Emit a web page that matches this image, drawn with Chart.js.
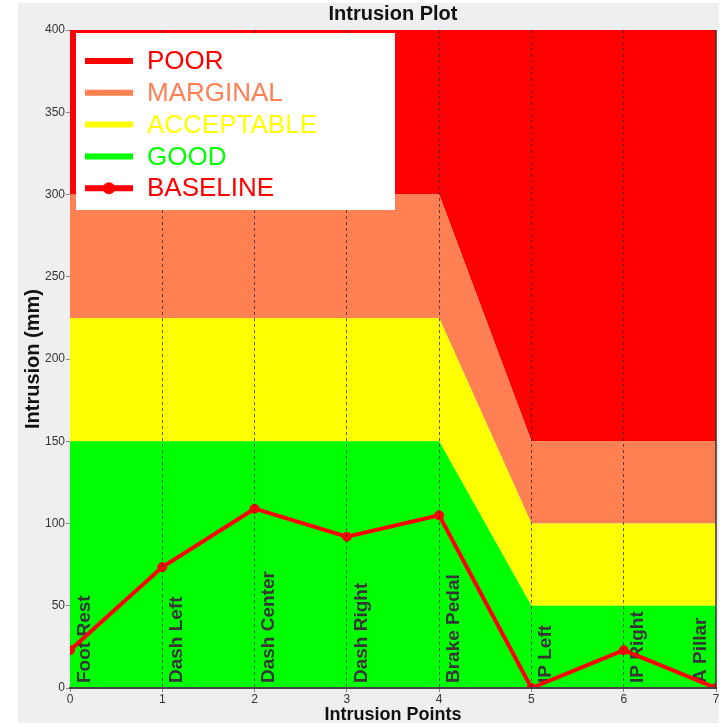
<!DOCTYPE html>
<html>
<head>
<meta charset="utf-8">
<script src="https://cdn.jsdelivr.net/npm/chart.js@4.4.1/dist/chart.umd.min.js"></script>
<style>
  html, body { margin: 0; padding: 0; background: #ffffff; }
  #wrap { position: relative; width: 727px; height: 727px; }
</style>
</head>
<body>
<div id="wrap"><canvas id="c" width="727" height="727"></canvas></div>
<script>
// ---- data ----
const categories = ['Foot Rest', 'Dash Left', 'Dash Center', 'Dash Right', 'Brake Pedal', 'IP Left', 'IP Right', 'A Pillar'];
const xPositions = [0, 1, 2, 3, 4, 5, 6, 7];
const goodLimit = [150, 150, 150, 150, 150, 50, 50, 50];
const acceptableLimit = [225, 225, 225, 225, 225, 100, 100, 100];
const marginalLimit = [300, 300, 300, 300, 300, 150, 150, 150];
const poorLimit = [400, 400, 400, 400, 400, 400, 400, 400];
const baseline = [23, 73.5, 109, 92, 105, 0, 23, 0];
const yTicks = [0, 50, 100, 150, 200, 250, 300, 350, 400];

const toXY = arr => arr.map((v, i) => ({ x: xPositions[i], y: v }));

const COL_POOR = '#ff0000';
const COL_MARG = '#ff8052';
const COL_ACC = '#ffff00';
const COL_GOOD = '#00ff00';
const FONT = "'Liberation Sans', Arial, sans-serif";
const NARROW = "'Liberation Sans Narrow', 'Liberation Sans', Arial, sans-serif";

const bandDefaults = { borderWidth: 0, borderColor: 'rgba(0,0,0,0)', pointRadius: 0, pointHoverRadius: 0, tension: 0 };

const panelPlugin = {
  id: 'panel',
  beforeDraw(chart) {
    const ctx = chart.ctx;
    ctx.save();
    ctx.fillStyle = '#efefef';
    ctx.fillRect(18, 3, 701, 720);
    ctx.restore();
  }
};

const labelsPlugin = {
  id: 'catLabels',
  afterDatasetDraw(chart, args) {
    if (args.index !== 1) return;
    const ctx = chart.ctx;
    const xs = chart.scales.x, ys = chart.scales.y;
    const area = chart.chartArea;
    ctx.save();
    ctx.font = 'bold 19px ' + FONT;
    ctx.fillStyle = '#363636';
    ctx.textAlign = 'left';
    ctx.textBaseline = 'top';
    const y0 = ys.getPixelForValue(0) - 5;
    categories.forEach((c, i) => {
      let px = xs.getPixelForValue(xPositions[i]) + 5;
      if (px + 24 > area.right) px = area.right - 25;
      ctx.save();
      ctx.translate(px, y0);
      ctx.rotate(-Math.PI / 2);
      ctx.fillText(c, 0, 0);
      ctx.restore();
    });
    ctx.restore();
  }
};

const framePlugin = {
  id: 'frame',
  afterDraw(chart) {
    const ctx = chart.ctx;
    const a = chart.chartArea;
    ctx.save();
    ctx.strokeStyle = '#333';
    ctx.lineWidth = 1.5;
    ctx.beginPath();
    ctx.moveTo(a.right, a.top);
    ctx.lineTo(a.right, a.bottom);
    ctx.stroke();

    // legend box
    const bx = a.left + 6, by = a.top + 3, bw = 319, bh = 177;
    ctx.fillStyle = '#ffffff';
    ctx.fillRect(bx, by, bw, bh);
    const order = [4, 3, 2, 1, 0];
    ctx.font = '26px ' + FONT;
    ctx.textBaseline = 'middle';
    ctx.textAlign = 'left';
    order.forEach((di, k) => {
      const ds = chart.data.datasets[di];
      const cy = by + 28 + k * 31.8;
      const col = ds.legendColor;
      ctx.strokeStyle = col;
      ctx.lineWidth = 6;
      ctx.beginPath();
      ctx.moveTo(bx + 9, cy);
      ctx.lineTo(bx + 57, cy);
      ctx.stroke();
      if (di === 0) {
        ctx.fillStyle = col;
        ctx.beginPath();
        ctx.arc(bx + 33, cy, 6, 0, Math.PI * 2);
        ctx.fill();
      }
      ctx.fillStyle = col;
      ctx.fillText(ds.label, bx + 71, cy + 1);
    });
    ctx.restore();
  }
};

new Chart(document.getElementById('c'), {
  type: 'line',
  data: {
    datasets: [
      { label: 'BASELINE', legendColor: COL_POOR, data: toXY(baseline), borderColor: COL_POOR, backgroundColor: COL_POOR,
        borderWidth: 4, pointRadius: 4.5, pointBorderWidth: 1, pointBackgroundColor: COL_POOR, pointBorderColor: COL_POOR,
        tension: 0, fill: false },
      Object.assign({ label: 'GOOD', legendColor: COL_GOOD, data: toXY(goodLimit), backgroundColor: COL_GOOD, fill: 'origin' }, bandDefaults),
      Object.assign({ label: 'ACCEPTABLE', legendColor: COL_ACC, data: toXY(acceptableLimit), backgroundColor: COL_ACC, fill: '-1' }, bandDefaults),
      Object.assign({ label: 'MARGINAL', legendColor: COL_MARG, data: toXY(marginalLimit), backgroundColor: COL_MARG, fill: '-1' }, bandDefaults),
      Object.assign({ label: 'POOR', legendColor: COL_POOR, data: toXY(poorLimit), backgroundColor: COL_POOR, fill: '-1' }, bandDefaults)
    ]
  },
  options: {
    responsive: false,
    animation: false,
    events: [],
    layout: { padding: { left: 0, top: 0, right: 11, bottom: 0 } },
    plugins: {
      legend: { display: false },
      title: { display: false },
      tooltip: { enabled: false },
      filler: { propagate: false }
    },
    scales: {
      x: {
        type: 'linear', position: 'bottom', min: 0, max: 7,
        afterFit(s) { s.height = 39; },
        ticks: { stepSize: 1, color: '#333', padding: 0, font: { family: NARROW, size: 12 }, maxRotation: 0 },
        grid: {
          z: 1,
          color: ctx => (ctx.tick && (ctx.tick.value === 0 || ctx.tick.value === 7)) ? 'rgba(0,0,0,0)' : 'rgba(40,40,40,0.75)',
          lineWidth: 1, tickLength: 4, tickColor: '#888', drawOnChartArea: true, tickBorderDash: []
        },
        border: { display: true, z: 1, color: '#444', width: 2, dash: [3, 3] },
        title: { display: true, text: 'Intrusion Points', color: '#111', font: { family: NARROW, size: 18, weight: 'bold' }, padding: { top: 0, bottom: 1 } }
      },
      xTop: {
        type: 'linear', position: 'top', min: 0, max: 7,
        afterFit(s) { s.height = 30; },
        ticks: { display: false },
        grid: { display: false },
        border: { display: false },
        title: { display: true, text: 'Intrusion Plot', color: '#111', font: { family: FONT, size: 20, weight: 'bold' }, padding: { top: 2, bottom: 0 } }
      },
      y: {
        type: 'linear', min: 0, max: 400,
        afterFit(s) { s.width = 70; },
        afterBuildTicks(s) { s.ticks = yTicks.map(v => ({ value: v })); },
        ticks: { color: '#333', padding: 1, font: { family: FONT, size: 12 } },
        grid: { drawOnChartArea: false, tickLength: 4, tickColor: '#888', color: '#888' },
        border: { display: false },
        title: { display: true, text: 'Intrusion (mm)', color: '#111', font: { family: FONT, size: 20, weight: 'bold' }, padding: { top: 21, bottom: 0 } }
      }
    }
  },
  plugins: [panelPlugin, labelsPlugin, framePlugin]
});
</script>
</body>
</html>
